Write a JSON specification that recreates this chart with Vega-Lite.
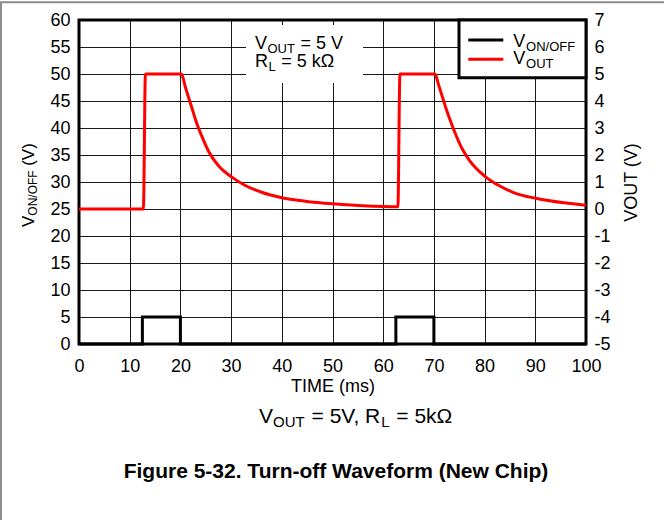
{
  "$schema": "https://vega.github.io/schema/vega-lite/v6.json",
  "width": 507,
  "height": 324,
  "autosize": {"type": "none"},
  "padding": {"left": 79, "top": 20, "right": 78, "bottom": 176},
  "background": "white",
  "config": {
    "font": "Liberation Sans",
    "view": {"stroke": "black", "strokeWidth": 3},
    "axis": {
      "labelFont": "Liberation Sans",
      "labelFontSize": 18,
      "labelColor": "black",
      "ticks": false,
      "tickSize": 0,
      "domain": false,
      "titleFont": "Liberation Sans",
      "titleFontSize": 18,
      "titleFontWeight": "normal",
      "titleColor": "black",
      "gridColor": "black",
      "gridWidth": 1,
      "gridOpacity": 0.9,
      "labelFlush": false,
      "labelOverlap": false,
      "labelBound": false
    },
    "text": {"font": "Liberation Sans", "color": "black"}
  },
  "datasets": {
    "vonoff": [
      {"t": 0, "v": 0}, {"t": 12.5, "v": 0}, {"t": 12.5, "v": 5}, {"t": 20, "v": 5}, {"t": 20, "v": 0},
      {"t": 62.5, "v": 0}, {"t": 62.5, "v": 5}, {"t": 70, "v": 5}, {"t": 70, "v": 0}, {"t": 100, "v": 0}
    ],
    "vout": [
      {"t": 0, "v": 0}, {"t": 12.7, "v": 0}, {"t": 13.1, "v": 5}, {"t": 20.2, "v": 5},
      {"t": 21.0, "v": 4.5}, {"t": 21.6, "v": 4.14}, {"t": 22.3, "v": 3.72}, {"t": 23.0, "v": 3.3},
      {"t": 24.3, "v": 2.66}, {"t": 25.6, "v": 2.12}, {"t": 27.6, "v": 1.58}, {"t": 30, "v": 1.2},
      {"t": 32.7, "v": 0.88}, {"t": 36, "v": 0.62}, {"t": 40, "v": 0.42}, {"t": 44.6, "v": 0.29},
      {"t": 50, "v": 0.19}, {"t": 56, "v": 0.12}, {"t": 62.9, "v": 0.08}, {"t": 63.3, "v": 5},
      {"t": 70.2, "v": 5}, {"t": 71.0, "v": 4.55}, {"t": 71.6, "v": 4.2}, {"t": 72.3, "v": 3.78},
      {"t": 73.0, "v": 3.4}, {"t": 74.3, "v": 2.76}, {"t": 75.6, "v": 2.22}, {"t": 77, "v": 1.8},
      {"t": 80, "v": 1.22}, {"t": 83, "v": 0.85}, {"t": 85.7, "v": 0.61}, {"t": 90.3, "v": 0.39},
      {"t": 95.7, "v": 0.23}, {"t": 100, "v": 0.14}
    ]
  },
  "resolve": {"scale": {"y": "independent"}, "axis": {"y": "independent"}},
  "layer": [
    {
      "data": {"values": [{"t": -15.38, "t2": 140, "v": 63.3, "v2": -40}]},
      "mark": {"type": "rect", "filled": false, "stroke": "#8c8c8c", "strokeWidth": 2, "clip": false},
      "encoding": {
        "x": {"field": "t", "type": "quantitative", "scale": {"domain": [0, 100], "nice": false}},
        "x2": {"field": "t2"},
        "y": {"field": "v", "type": "quantitative", "scale": {"domain": [0, 60], "nice": false}, "axis": null},
        "y2": {"field": "v2"}
      }
    },
    {
      "data": {"values": [{"t": 32.94, "t2": 56.02, "v": 59.07, "v2": 48.33}]},
      "mark": {"type": "rect", "fill": "white", "strokeWidth": 0},
      "encoding": {
        "x": {"field": "t", "type": "quantitative", "scale": {"domain": [0, 100], "nice": false}},
        "x2": {"field": "t2"},
        "y": {"field": "v", "type": "quantitative", "scale": {"domain": [0, 60], "nice": false}, "axis": null},
        "y2": {"field": "v2"}
      }
    },
    {
      "data": {"name": "vonoff"},
      "mark": {"type": "line", "color": "black", "strokeWidth": 3},
      "encoding": {
        "x": {
          "field": "t", "type": "quantitative",
          "scale": {"domain": [0, 100], "nice": false},
          "axis": {"values": [0, 10, 20, 30, 40, 50, 60, 70, 80, 90, 100], "grid": true, "title": "TIME (ms)", "labelPadding": 13, "titlePadding": 2}
        },
        "y": {
          "field": "v", "type": "quantitative",
          "scale": {"domain": [0, 60], "nice": false},
          "axis": {"orient": "left", "values": [0, 5, 10, 15, 20, 25, 30, 35, 40, 45, 50, 55, 60], "grid": true, "title": null, "labelPadding": 9}
        },
        "order": {"value": null}
      }
    },
    {
      "data": {"name": "vout"},
      "mark": {"type": "line", "color": "#ff0000", "strokeWidth": 3, "interpolate": "monotone"},
      "encoding": {
        "x": {"field": "t", "type": "quantitative", "scale": {"domain": [0, 100], "nice": false}},
        "y": {
          "field": "v", "type": "quantitative",
          "scale": {"domain": [-5, 7], "nice": false, "zero": false},
          "axis": {"orient": "right", "values": [-5, -4, -3, -2, -1, 0, 1, 2, 3, 4, 5, 6, 7], "labelExpr": "'' + datum.value", "grid": false, "title": "VOUT (V)", "titleAngle": 270, "labelPadding": 8, "titlePadding": 30}
        },
        "order": {"value": null}
      }
    },
    {
      "data": {"values": [{"t": 74.95, "t2": 100, "v": 60, "v2": 49.3}]},
      "mark": {"type": "rect", "fill": "white", "stroke": "black", "strokeWidth": 3},
      "encoding": {
        "x": {"field": "t", "type": "quantitative", "scale": {"domain": [0, 100], "nice": false}},
        "x2": {"field": "t2"},
        "y": {"field": "v", "type": "quantitative", "scale": {"domain": [0, 60], "nice": false}, "axis": null},
        "y2": {"field": "v2"}
      }
    },
    {
      "data": {"values": [
        {"t": 76.78, "t2": 83.69, "v": 56.3, "series": "VON/OFF"},
        {"t": 76.78, "t2": 83.69, "v": 52.72, "series": "VOUT"}
      ]},
      "mark": {"type": "rule", "strokeWidth": 3},
      "encoding": {
        "x": {"field": "t", "type": "quantitative", "scale": {"domain": [0, 100], "nice": false}},
        "x2": {"field": "t2"},
        "y": {"field": "v", "type": "quantitative", "scale": {"domain": [0, 60], "nice": false}, "axis": null},
        "color": {"field": "series", "type": "nominal", "scale": {"domain": ["VON/OFF", "VOUT"], "range": ["black", "#ff0000"]}, "legend": null}
      }
    },
    {
      "data": {"values": [
        {"t": 34.71, "v": 54.63, "label": "V"},
        {"t": 43.67, "v": 54.63, "label": "= 5 V"},
        {"t": 34.71, "v": 51.35, "label": "R"},
        {"t": 39.89, "v": 51.35, "label": "= 5 kΩ"},
        {"t": 85.66, "v": 55.06, "label": "V"},
        {"t": 85.66, "v": 51.8, "label": "V"}
      ]},
      "mark": {"type": "text", "fontSize": 18, "align": "left", "baseline": "alphabetic"},
      "encoding": {
        "x": {"field": "t", "type": "quantitative", "scale": {"domain": [0, 100], "nice": false}},
        "y": {"field": "v", "type": "quantitative", "scale": {"domain": [0, 60], "nice": false}, "axis": null},
        "text": {"field": "label"}
      }
    },
    {
      "data": {"values": [
        {"t": 37.18, "v": 53.89, "label": "OUT"},
        {"t": 37.38, "v": 50.61, "label": "L"},
        {"t": 88.17, "v": 54.35, "label": "ON/OFF"},
        {"t": 88.17, "v": 51.11, "label": "OUT"}
      ]},
      "mark": {"type": "text", "fontSize": 13, "align": "left", "baseline": "alphabetic"},
      "encoding": {
        "x": {"field": "t", "type": "quantitative", "scale": {"domain": [0, 100], "nice": false}},
        "y": {"field": "v", "type": "quantitative", "scale": {"domain": [0, 60], "nice": false}, "axis": null},
        "text": {"field": "label"}
      }
    },
    {
      "data": {"values": [
        {"t": 35.5, "v": -14.69, "label": "V"},
        {"t": 45.87, "v": -14.69, "label": "= 5V, R"},
        {"t": 62.59, "v": -14.69, "label": "= 5kΩ"}
      ]},
      "mark": {"type": "text", "fontSize": 21, "align": "left", "baseline": "alphabetic", "clip": false},
      "encoding": {
        "x": {"field": "t", "type": "quantitative", "scale": {"domain": [0, 100], "nice": false}},
        "y": {"field": "v", "type": "quantitative", "scale": {"domain": [0, 60], "nice": false}, "axis": null},
        "text": {"field": "label"}
      }
    },
    {
      "data": {"values": [
        {"t": 38.26, "v": -15.37, "label": "OUT"},
        {"t": 59.61, "v": -15.37, "label": "L"}
      ]},
      "mark": {"type": "text", "fontSize": 15, "align": "left", "baseline": "alphabetic", "clip": false},
      "encoding": {
        "x": {"field": "t", "type": "quantitative", "scale": {"domain": [0, 100], "nice": false}},
        "y": {"field": "v", "type": "quantitative", "scale": {"domain": [0, 60], "nice": false}, "axis": null},
        "text": {"field": "label"}
      }
    },
    {
      "data": {"values": [
        {"t": 50.69, "v": -24.76, "label": "Figure 5-32. Turn-off Waveform (New Chip)"}
      ]},
      "mark": {"type": "text", "fontSize": 21, "fontWeight": "bold", "align": "center", "baseline": "alphabetic", "clip": false},
      "encoding": {
        "x": {"field": "t", "type": "quantitative", "scale": {"domain": [0, 100], "nice": false}},
        "y": {"field": "v", "type": "quantitative", "scale": {"domain": [0, 60], "nice": false}, "axis": null},
        "text": {"field": "label"}
      }
    },
    {
      "data": {"values": [
        {"t": -8.97, "v": 21.67, "label": "V"},
        {"t": -8.97, "v": 33.0, "label": "(V)"}
      ]},
      "mark": {"type": "text", "fontSize": 17, "angle": 270, "align": "left", "baseline": "alphabetic", "clip": false},
      "encoding": {
        "x": {"field": "t", "type": "quantitative", "scale": {"domain": [0, 100], "nice": false}},
        "y": {"field": "v", "type": "quantitative", "scale": {"domain": [0, 60], "nice": false}, "axis": null},
        "text": {"field": "label"}
      }
    },
    {
      "data": {"values": [
        {"t": -8.38, "v": 23.76, "label": "ON/OFF"}
      ]},
      "mark": {"type": "text", "fontSize": 12, "angle": 270, "align": "left", "baseline": "alphabetic", "clip": false},
      "encoding": {
        "x": {"field": "t", "type": "quantitative", "scale": {"domain": [0, 100], "nice": false}},
        "y": {"field": "v", "type": "quantitative", "scale": {"domain": [0, 60], "nice": false}, "axis": null},
        "text": {"field": "label"}
      }
    }
  ]
}
